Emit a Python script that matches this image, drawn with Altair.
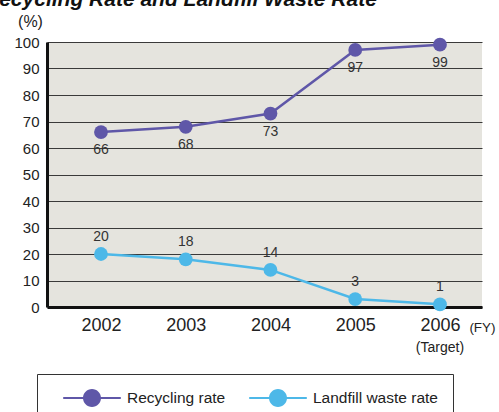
import altair as alt
import pandas as pd

years = [2002, 2003, 2004, 2005, 2006]
recycling = [66, 68, 73, 97, 99]
landfill = [20, 18, 14, 3, 1]
series_names = ["Recycling rate", "Landfill waste rate"]
series_colors = ["#5f57a8", "#4db8e8"]
y_ticks = [0, 10, 20, 30, 40, 50, 60, 70, 80, 90, 100]
title_text = "Recycling Rate and Landfill Waste Rate"
target_year = [2006]
target_text = ["(Target)"]

rows = []
for yr, v in zip(years, recycling):
    rows.append({"year": yr, "value": v, "series": series_names[0]})
for yr, v in zip(years, landfill):
    rows.append({"year": yr, "value": v, "series": series_names[1]})
df = pd.DataFrame(rows)
target_df = pd.DataFrame({"year": target_year, "text": target_text})

FONT = "Liberation Sans"
W, H = 435, 265

x_scale = alt.Scale(domain=[2001.363, 2006.496], nice=False, zero=False)
y_scale = alt.Scale(domain=[0, 100], nice=False)
c_scale = alt.Scale(domain=series_names, range=series_colors)

x_enc = alt.X("year:Q", scale=x_scale,
              axis=alt.Axis(values=years, format="d", title="(FY)", grid=False,
                            ticks=False, labelFontSize=18, labelFont=FONT,
                            labelColor="#222", labelPadding=9,
                            domainColor="#111", domainWidth=3,
                            titleX=435, titleY=20, titleAlign="center",
                            titleBaseline="middle", titleFontSize=13.5,
                            titleFont=FONT, titleFontWeight="normal",
                            titleColor="#222"))
y_enc = alt.Y("value:Q", scale=y_scale,
              axis=alt.Axis(values=y_ticks, title="(%)", grid=True,
                            gridColor="#3a3a3a", gridWidth=1, ticks=False,
                            labelFontSize=15, labelFont=FONT, labelColor="#222",
                            labelPadding=8, domainColor="#111", domainWidth=3,
                            titleAngle=0, titleX=-17, titleY=-21,
                            titleAlign="center", titleBaseline="middle",
                            titleFontSize=16, titleFont=FONT,
                            titleFontWeight="normal", titleColor="#222"))

legend = alt.Legend(
    title=None, orient="none", legendX=-10, legendY=332, direction="horizontal",
    symbolType="M-3.2,-0.12H3.2V0.12H-3.2Z M1,0A1,1 0 1,1 -1,0A1,1 0 1,1 1,0Z",
    symbolSize=324, symbolStrokeWidth=0, symbolOpacity=1,
    symbolOffset=31, labelOffset=26, padding=15, columnPadding=12,
    labelFont=FONT, labelFontSize=15.5, labelColor="#222", labelLimit=300,
    strokeColor="#333", fillColor="white",
)

base = alt.Chart(df)

lines = base.mark_line(strokeWidth=2.5).encode(
    x=x_enc, y=y_enc,
    stroke=alt.Stroke("series:N", scale=c_scale, legend=legend),
)
points = base.mark_point(filled=True, size=190, opacity=1, strokeWidth=0).encode(
    x=x_enc, y=y_enc,
    fill=alt.Fill("series:N", scale=c_scale, legend=legend),
)
labels_rec = base.transform_filter(
    alt.datum.series == series_names[0]
).mark_text(dy=18, fontSize=14, font=FONT, color="#333").encode(
    x=x_enc, y=y_enc, text=alt.Text("value:Q"))
labels_land = base.transform_filter(
    alt.datum.series == series_names[1]
).mark_text(dy=-17, fontSize=14, font=FONT, color="#333").encode(
    x=x_enc, y=y_enc, text=alt.Text("value:Q"))
target = alt.Chart(target_df).mark_text(fontSize=14, font=FONT, color="#222",
                                        baseline="middle").encode(
    x=alt.X("year:Q", scale=x_scale), y=alt.value(H + 41), text="text:N")

chart = alt.layer(lines, points, labels_rec, labels_land, target).properties(
    width=W, height=H,
    background="white",
    autosize=alt.AutoSizeParams(type="none"),
    padding={"left": 47, "top": 42, "right": 17, "bottom": 105},
    title=alt.TitleParams(title_text, anchor="start", frame="group", fontSize=21,
                          fontWeight="bold", fontStyle="italic", font=FONT,
                          color="#111", dx=-63, dy=1),
).configure_view(fill="#e5e4de", stroke=None)

chart.save("out.html", embed_options={"renderer": "svg", "actions": False})
